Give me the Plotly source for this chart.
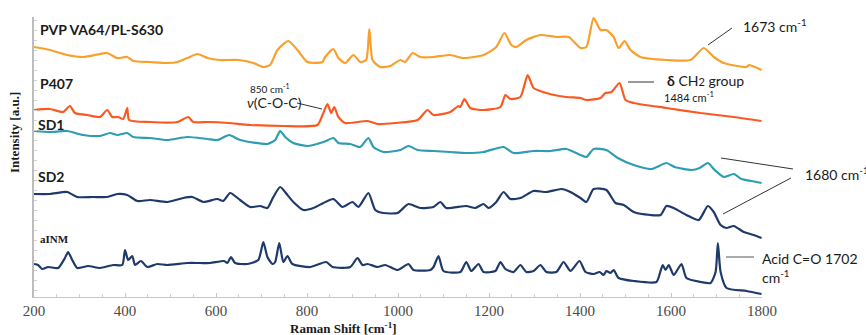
import plotly.graph_objects as go

# ---- data (wavenumber, relative intensity in a.u.) ----
pvp_x = [200,235,273,308,345,361,383,405,418,455,493,515,537,559,581,609,649,682,704,719,735,759,779,801,834,840,858,869,884,902,917,930,937,944,961,983,1005,1016,1032,1049,1078,1115,1144,1188,1216,1234,1249,1260,1282,1313,1348,1375,1401,1414,1430,1445,1458,1474,1485,1498,1511,1533,1590,1643,1672,1694,1716,1766,1771,1799]
pvp_py = [47,50,55,57,54,53,58,57,61,62,63,62,58,54,58,60,60,63,67,65,50,41,50,62,62,57,49,58,63,55,62,60,29,60,67,66,60,62,53,57,57,55,58,55,47,33,45,47,40,35,37,37,48,47,18,30,30,37,48,41,50,57,60,60,48,57,63,67,65,70]

p407_x = [200,235,264,279,290,317,345,361,372,385,396,405,409,455,515,539,550,583,627,675,748,823,834,845,853,860,869,884,933,955,994,1043,1065,1078,1115,1133,1137,1146,1159,1188,1225,1236,1247,1269,1285,1298,1326,1370,1401,1414,1445,1456,1469,1487,1500,1518,1590,1665,1738,1799]
p407_py = [110,109,112,106,113,115,117,110,117,117,119,108,120,122,122,117,122,122,123,125,126,125,115,104,113,107,117,123,121,124,123,120,110,115,112,106,107,99,108,110,107,95,99,97,75,88,93,97,98,100,98,93,92,83,100,103,108,113,117,121]

sd1_x = [200,235,273,308,345,367,383,405,418,455,493,537,581,603,629,653,713,730,741,752,770,801,836,858,869,895,917,935,946,968,1005,1023,1043,1078,1115,1150,1188,1232,1254,1298,1335,1370,1401,1414,1430,1458,1483,1518,1557,1590,1608,1645,1663,1681,1696,1716,1738,1755,1777,1799]
sd1_py = [131,132,131,135,136,133,135,133,137,138,140,137,139,140,135,140,144,140,131,137,143,146,142,138,143,144,147,138,147,152,150,146,150,151,152,153,152,147,153,151,151,149,155,157,149,150,158,165,169,163,167,170,168,163,170,177,174,179,181,183]

sd2_x = [200,235,273,295,330,361,383,405,427,455,493,528,548,572,603,616,631,653,675,697,713,726,741,757,770,792,814,836,858,878,900,913,935,950,968,999,1023,1049,1078,1093,1106,1150,1170,1188,1199,1216,1232,1247,1269,1298,1326,1359,1379,1401,1414,1430,1458,1478,1496,1518,1555,1577,1590,1606,1634,1661,1681,1694,1709,1722,1738,1760,1782,1799]
sd2_py = [194,194,192,197,197,197,194,195,201,200,202,198,197,202,199,201,193,200,207,206,208,197,187,195,202,210,208,203,199,207,202,207,193,210,213,213,204,208,207,202,208,206,208,204,208,202,192,199,198,191,192,189,192,198,202,189,190,203,205,212,215,215,206,208,215,220,206,212,225,228,226,232,235,238]

ainm_x = [200,209,218,231,253,268,275,284,295,319,345,374,394,400,407,416,422,435,449,471,493,537,565,587,618,625,633,642,669,693,704,713,724,730,739,748,757,768,807,842,856,895,911,922,933,955,972,999,1023,1034,1071,1078,1089,1100,1137,1150,1161,1177,1188,1214,1225,1236,1254,1269,1282,1298,1313,1326,1348,1364,1379,1399,1412,1430,1443,1452,1458,1467,1474,1485,1518,1568,1577,1582,1588,1595,1606,1623,1634,1665,1687,1698,1703,1709,1722,1766,1799]
ainm_py = [264,265,269,267,268,258,252,260,268,266,268,265,265,250,260,256,265,261,267,264,265,263,263,263,261,263,257,263,264,260,242,257,264,262,243,262,256,264,267,262,267,267,258,265,264,267,265,270,264,270,270,267,256,271,272,262,271,264,272,271,262,269,272,265,272,271,265,272,272,262,271,261,272,274,272,275,271,273,270,278,281,282,271,265,270,265,275,264,278,282,283,272,243,272,288,291,294]

series_names = ["PVP VA64/PL-S630", "P407", "SD1", "SD2", "aINM"]
series_colors = ["#F9A02C", "#FA5A22", "#2E9DB2", "#1F3A6A", "#1F3A6A"]
x_ticks = [200, 400, 600, 800, 1000, 1200, 1400, 1600, 1800]

BASE = 300  # intensity = BASE - picture row


def inten(rows):
    return [BASE - r for r in rows]


# ---- layout geometry (pixels) ----
W, H = 866, 335
L, R, T, B = 34, 104, 17, 38
PW, PH = W - L - R, H - T - B


def px(xp):
    return (xp - L) / PW


def py(yp):
    return (H - B - yp) / PH


fig = go.Figure()
all_x = [pvp_x, p407_x, sd1_x, sd2_x, ainm_x]
all_y = [pvp_py, p407_py, sd1_py, sd2_py, ainm_py]
for name, col, xs, ys in zip(series_names, series_colors, all_x, all_y):
    fig.add_trace(go.Scatter(x=xs, y=inten(ys), mode="lines", name=name,
                             line=dict(color=col, width=2.2, shape="spline", smoothing=0.6),
                             showlegend=False))

serif = "Liberation Serif, Times New Roman, serif"
sans = "Lato, Open Sans, sans-serif"

annotations = []


def txt(text, x, y, size, family=sans, anchor="left", color="#1a1a1a"):
    annotations.append(dict(text=text, x=px(x), y=py(y), xref="paper", yref="paper",
                            xanchor=anchor, yanchor="middle", showarrow=False,
                            font=dict(size=size, family=family, color=color)))


# series labels
txt("<b>PVP VA64/PL-S630</b>", 38, 30, 14)
txt("<b>P407</b>", 38, 83, 14)
txt("<b>SD1</b>", 36, 125, 14)
txt("<b>SD2</b>", 36, 176, 14)
txt("<b>aINM</b>", 38, 239, 11, family=serif)

# peak notes
txt("850 cm<sup>-1</sup>", 270, 88, 10, anchor="center")
txt("<i>ν</i>(C-O-C)", 274, 102, 14, anchor="center")
txt("1673 cm<sup>-1</sup>", 741, 25, 14)
txt("<b>δ</b> CH<span style='font-size:11px'>2</span> group", 665, 80, 14)
txt("1484 cm<sup>-1</sup>", 662, 96, 11)
txt("1680 cm<sup>-1</sup>", 803, 173, 14)
txt("Acid C=O 1702", 760, 258, 14)
txt("cm<sup>-1</sup>", 760, 276, 14)

# axis titles
txt("<b>Raman Shift [cm<sup>-1</sup>]</b>", 343, 328, 13, family=serif, anchor="center")
annotations.append(dict(text="<b>Intensity [a.u.]</b>", x=px(14), y=py(133), xref="paper",
                        yref="paper", xanchor="center", yanchor="middle", showarrow=False,
                        textangle=-90, font=dict(size=13, family=serif, color="#1a1a1a")))

shapes = []


def seg(x0, y0, x1, y1, color="#333333"):
    shapes.append(dict(type="line", xref="paper", yref="paper",
                       x0=px(x0), y0=py(y0), x1=px(x1), y1=py(y1),
                       line=dict(color=color, width=1)))


seg(297, 103, 322, 109)
seg(708, 45, 732, 28)
seg(628, 82, 654, 82)
seg(721, 158, 793, 169)
seg(723, 214, 791, 178)
seg(726, 257, 754, 257, "#555555")

fig.update_layout(
    width=W, height=H,
    margin=dict(l=L, r=R, t=T, b=B),
    paper_bgcolor="white", plot_bgcolor="white",
    annotations=annotations, shapes=shapes,
    xaxis=dict(range=[200, 1800], tickvals=x_ticks, ticks="inside", ticklen=4,
               tickcolor="#C8C8C8", showline=True, linecolor="#C8C8C8", linewidth=1,
               showgrid=False, zeroline=False,
               minor=dict(dtick=50, ticks="inside", ticklen=3, tickcolor="#D0D0D0"),
               tickfont=dict(family=serif, size=15, color="#4a4a4a")),
    yaxis=dict(range=[BASE - (H - B), BASE - T], showticklabels=False, ticks="inside",
               ticklen=3, tickcolor="#D0D0D0", dtick=10, showline=True,
               linecolor="#BDBDBD", linewidth=1.5, showgrid=False, zeroline=False),
)

fig.write_html("out.html")
